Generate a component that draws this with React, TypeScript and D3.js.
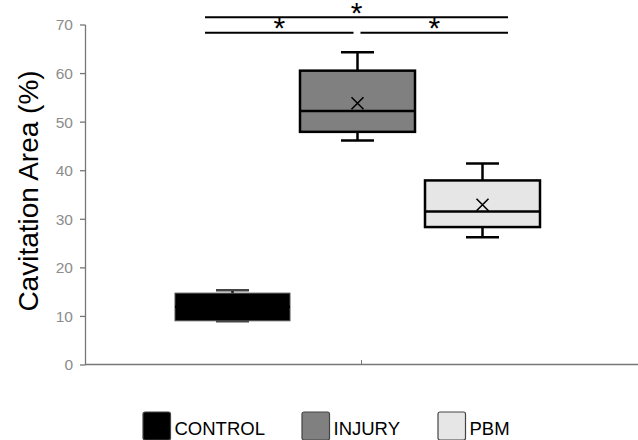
import React from "react";
import * as d3 from "d3";

// groups and their box statistics
const groups = ["CONTROL", "INJURY", "PBM"];
const fills = ["#000000", "#808080", "#e6e6e6"];
const mins = [9.0, 46.2, 26.3];
const q1s = [9.1, 48.0, 28.4];
const medians = [12.0, 52.3, 31.6];
const q3s = [14.8, 60.6, 38.0];
const maxs = [15.4, 64.4, 41.5];
const means = [12.0, 53.9, 33.0];

const yTicks = [0, 10, 20, 30, 40, 50, 60, 70];

// significance brackets: [from, to, level in %]
const brackets: [string, string, number][] = [
  ["CONTROL", "PBM", 71.6],
  ["CONTROL", "INJURY", 68.4],
  ["INJURY", "PBM", 68.4],
];

const W = 638, H = 440;
const plot = { left: 85, right: 638, top: 25, bottom: 365 };

export default function App() {
  const x = d3.scaleBand().domain(groups).range([170, 545]).paddingInner(0.08).paddingOuter(0.04);
  const y = d3.scaleLinear().domain([0, 70]).range([plot.bottom, plot.top]);
  const bw = x.bandwidth();
  const cx = (g: string) => (x(g) as number) + bw / 2;
  const capW = 33;

  const boxes = groups.map((g, i) => ({
    g, fill: fills[i], min: mins[i], q1: q1s[i], med: medians[i], q3: q3s[i], max: maxs[i], mean: means[i],
  }));

  const endX = (g: string, side: "l" | "r") => {
    const i = groups.indexOf(g);
    if (i === 0) return cx(g) - 27.5;
    if (i === groups.length - 1) return cx(g) + 25.5;
    return side === "r" ? cx(g) - 4 : cx(g) + 3;
  };

  return (
    <svg width={W} height={H} style={{ position: "absolute", left: 0, top: 0, fontFamily: "Liberation Sans, Arial, sans-serif" }}>
      <rect width={W} height={H} fill="#fff" />
      {/* y axis */}
      <line x1={plot.left + 0.5} x2={plot.left + 0.5} y1={plot.top} y2={plot.bottom} stroke="#777" strokeWidth={1.3} />
      {yTicks.map((t) => (
        <g key={t} transform={`translate(0,${y(t)})`}>
          <line x1={plot.left - 5} x2={plot.left + 0.5} stroke="#777" strokeWidth={1.3} />
          <text x={plot.left - 12} dy="0.35em" textAnchor="end" fontSize={15.5} fill="#8c8c8c">{t}</text>
        </g>
      ))}
      {/* x axis */}
      <line x1={plot.left} x2={plot.right} y1={plot.bottom - 0.5} y2={plot.bottom - 0.5} stroke="#777" strokeWidth={1.3} />
      <line x1={(plot.left + plot.right) / 2} x2={(plot.left + plot.right) / 2} y1={plot.bottom - 5} y2={plot.bottom} stroke="#777" strokeWidth={1} />

      <text transform={`translate(38,191) rotate(-90)`} textAnchor="middle" fontSize={28} fill="#000">
        Cavitation Area (%)
      </text>

      {/* boxes */}
      {boxes.map((b) => {
        const c = cx(b.g);
        const x0 = x(b.g) as number;
        const isDark = b.fill === "#000000";
        const sw = isDark ? 1 : 2.5;
        const stroke = isDark ? "#555" : "#000";
        const ms = 6;
        return (
          <g key={b.g}>
            <line x1={c} x2={c} y1={y(b.max)} y2={y(b.q3)} stroke="#000" strokeWidth={2.5} />
            <line x1={c} x2={c} y1={y(b.min)} y2={y(b.q1)} stroke="#000" strokeWidth={2.5} />
            <line x1={c - capW / 2} x2={c + capW / 2} y1={y(b.max)} y2={y(b.max)} stroke={isDark ? "#444" : "#000"} strokeWidth={2.5} />
            <line x1={c - capW / 2} x2={c + capW / 2} y1={y(b.min)} y2={y(b.min)} stroke={isDark ? "#444" : "#000"} strokeWidth={2.5} />
            <rect x={x0} y={y(b.q3)} width={bw} height={y(b.q1) - y(b.q3)} fill={b.fill} stroke={stroke} strokeWidth={sw} />
            <line x1={x0} x2={x0 + bw} y1={y(b.med)} y2={y(b.med)} stroke="#000" strokeWidth={2.5} />
            <path
              d={`M${c - ms},${y(b.mean) - ms}L${c + ms},${y(b.mean) + ms}M${c + ms},${y(b.mean) - ms}L${c - ms},${y(b.mean) + ms}`}
              stroke="#000" strokeWidth={1.6} fill="none"
            />
          </g>
        );
      })}

      {/* significance */}
      {brackets.map(([a, b, lvl], i) => {
        const x1 = endX(a, "l");
        const x2 = endX(b, "r");
        return (
          <g key={i}>
            <line x1={x1} x2={x2} y1={y(lvl)} y2={y(lvl)} stroke="#000" strokeWidth={2} />
            <text x={(x1 + x2) / 2} y={y(lvl) + 5.5} textAnchor="middle" fontSize={30} fill="#000">*</text>
          </g>
        );
      })}

      {/* legend */}
      {groups.map((g, i) => {
        const lx = [143, 302, 438][i];
        return (
          <g key={g} transform={`translate(${lx},412)`}>
            <rect x={0} y={0} width={27.5} height={28} rx={2} fill={fills[i]} stroke="#444" strokeWidth={1.2} />
            <text x={31.5} y={23} fontSize={18.5} fill="#000">{g}</text>
          </g>
        );
      })}
    </svg>
  );
}
